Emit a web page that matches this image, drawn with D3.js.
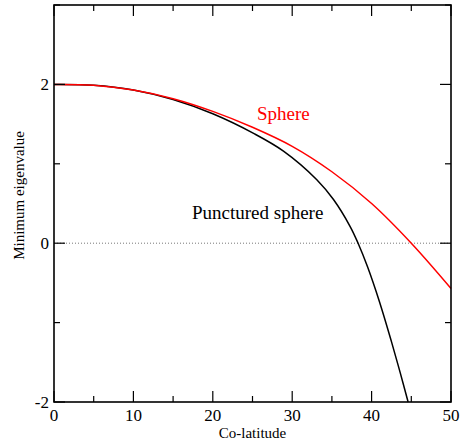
<!DOCTYPE html>
<html>
<head>
<script src="https://cdn.jsdelivr.net/npm/d3@7"></script>
</head>
<body style="margin:0">
<div id="chart"></div>
<script>
// values
const sphereX = [0, 5, 10, 15, 20, 25, 30, 35, 40, 45, 50];
const sphereY = [2.0, 1.99, 1.93, 1.82, 1.66, 1.46, 1.22, 0.90, 0.50, 0.0, -0.57];

const puncturedX = [0, 5, 10, 15, 20, 25.2, 28.9, 33.1, 35.2, 37.3, 38.3, 39.5, 41, 42.5, 43.6, 44.6];
const puncturedY = [2.0, 1.99, 1.93, 1.81, 1.63, 1.38, 1.16, 0.80, 0.55, 0.21, 0.0, -0.30, -0.74, -1.24, -1.63, -2.0];

const xMajor = [0, 10, 20, 30, 40, 50];
const xMinor = [5, 15, 25, 35, 45];
const yMajor = [-2, 0, 2];
const yMinor = [-1, 1, 3];

const W = 461, H = 441;
const margin = { left: 54, top: 5, right: 10, bottom: 39 };
const serif = 'Liberation Serif';

const svg = d3.select('#chart').append('svg')
  .attr('width', W)
  .attr('height', H);

const x = d3.scaleLinear().domain([0, 50]).range([margin.left, W - margin.right]);
const y = d3.scaleLinear().domain([-2, 3]).range([H - margin.bottom, margin.top]);

const yb = H - margin.bottom, xl = margin.left, xr = W - margin.right, yt = margin.top;

// text first, same way the font test did it
const texts = [
  { t: 'Sphere', x: 257, y: 120, size: 19, fill: '#f00', anchor: 'start', rot: 0 },
  { t: 'Punctured sphere', x: 192, y: 219, size: 19, fill: '#000', anchor: 'start', rot: 0 },
  { t: 'Co-latitude', x: (xl + xr) / 2, y: H - 3, size: 15, fill: '#000', anchor: 'middle', rot: 0 },
  { t: 'Minimum eigenvalue', x: 24, y: (yt + yb) / 2 - 8, size: 15, fill: '#000', anchor: 'middle', rot: -90 }
];
xMajor.forEach(v => texts.push({ t: String(v), x: x(v), y: yb + 19, size: 17, fill: '#000', anchor: 'middle', rot: 0 }));
yMajor.forEach(v => texts.push({ t: String(v), x: xl - 5, y: y(v) + 6, size: 17, fill: '#000', anchor: 'end', rot: 0 }));

svg.selectAll('text').data(texts).enter().append('text')
  .attr('transform', d => `translate(${d.x},${d.y}) rotate(${d.rot})`)
  .attr('font-family', serif)
  .style('font-size', d => d.size + 'px')
  .attr('fill', d => d.fill)
  .attr('text-anchor', d => d.anchor)
  .text(d => d.t);

// zero line
svg.append('line')
  .attr('x1', x(0)).attr('x2', x(50))
  .attr('y1', y(0)).attr('y2', y(0))
  .attr('stroke', '#777')
  .attr('stroke-width', 1)
  .attr('stroke-dasharray', '1,2');

const line = d3.line()
  .x(d => x(d[0]))
  .y(d => y(d[1]))
  .curve(d3.curveCatmullRom.alpha(0.5));

svg.append('path')
  .datum(puncturedX.map((v, i) => [v, puncturedY[i]]))
  .attr('d', line)
  .attr('fill', 'none')
  .attr('stroke', '#000')
  .attr('stroke-width', 1.5);

svg.append('path')
  .datum(sphereX.map((v, i) => [v, sphereY[i]]))
  .attr('d', line)
  .attr('fill', 'none')
  .attr('stroke', '#f00')
  .attr('stroke-width', 1.5);

// ticks pointing inward on all four sides (own lines, no axis text)
const major = 11, minor = 6;
const ticks = [];
xMajor.forEach(v => ticks.push({ v, len: major, side: 'x' }));
xMinor.forEach(v => ticks.push({ v, len: minor, side: 'x' }));
yMajor.forEach(v => ticks.push({ v, len: major, side: 'y' }));
yMinor.forEach(v => ticks.push({ v, len: minor, side: 'y' }));

const tg = svg.append('g').attr('stroke', '#000').attr('stroke-width', 1.2);
ticks.forEach(d => {
  if (d.side === 'x') {
    tg.append('line').attr('x1', x(d.v)).attr('x2', x(d.v)).attr('y1', yb).attr('y2', yb - d.len);
    tg.append('line').attr('x1', x(d.v)).attr('x2', x(d.v)).attr('y1', yt).attr('y2', yt + d.len);
  } else {
    tg.append('line').attr('y1', y(d.v)).attr('y2', y(d.v)).attr('x1', xl).attr('x2', xl + d.len);
    tg.append('line').attr('y1', y(d.v)).attr('y2', y(d.v)).attr('x1', xr).attr('x2', xr - d.len);
  }
});

// frame
svg.append('rect')
  .attr('x', xl).attr('y', yt)
  .attr('width', xr - xl).attr('height', yb - yt)
  .attr('fill', 'none')
  .attr('stroke', '#000')
  .attr('stroke-width', 1.6);
</script>
</body>
</html>
